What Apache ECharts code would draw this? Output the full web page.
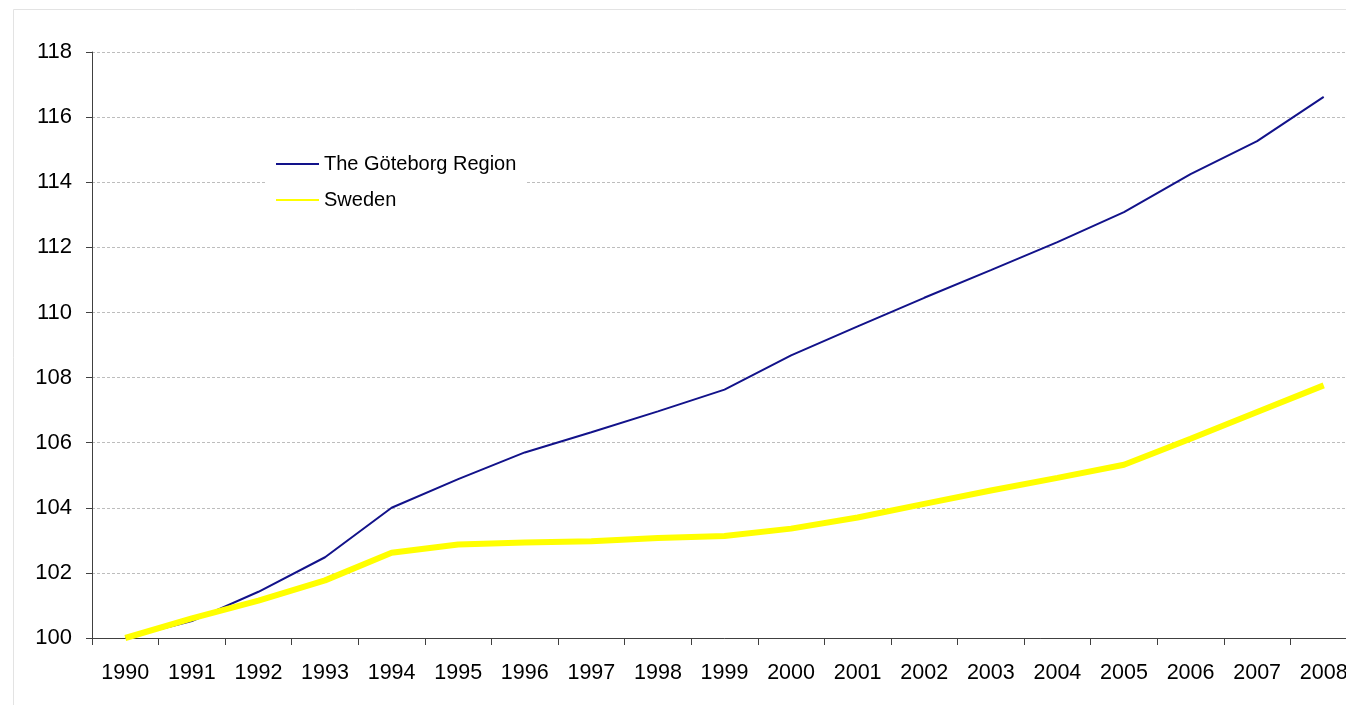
<!DOCTYPE html>
<html>
<head>
<meta charset="utf-8">
<script src="https://cdn.jsdelivr.net/npm/echarts@6/dist/echarts.min.js"></script>
<style>
    html, body { margin: 0; padding: 0; background: #fff; overflow: hidden; }
    /* the plot runs a little past the right edge of the picture */
    #main-id { width: 1380px; height: 705px; }
</style>
</head>
<body>
<div id="main-id"></div>
<script>
var years = ['1990', '1991', '1992', '1993', '1994', '1995', '1996', '1997', '1998', '1999',
             '2000', '2001', '2002', '2003', '2004', '2005', '2006', '2007', '2008'];
var goteborgValues = [100, 100.52, 101.42, 102.48, 104.0, 104.88, 105.7, 106.32, 106.96, 107.63,
                      108.68, 109.57, 110.45, 111.3, 112.16, 113.08, 114.25, 115.26, 116.62];
var swedenValues = [100, 100.6, 101.15, 101.77, 102.62, 102.87, 102.93, 102.97, 103.07, 103.13,
                    103.36, 103.7, 104.12, 104.53, 104.92, 105.32, 106.12, 106.94, 107.76];
var yTicks = { min: 100, max: 118, step: 2 };

function plotIndexChart(divId) {
    var dom = document.getElementById(divId);
    var myChart = echarts.init(dom, null, {
        renderer: 'canvas',
        useDirtyRect: false
    });
    var option;

    option = {
        animation: false,
        backgroundColor: '#ffffff',
        textStyle: {
            fontFamily: '"Liberation Sans", Arial, sans-serif'
        },
        // thin frame seen at top and left of the original picture
        graphic: [
            {
                type: 'rect',
                z: -10,
                shape: { x: 13.5, y: 9.5, width: 1500, height: 900 },
                style: { fill: 'none', stroke: '#e3e3e3', lineWidth: 1 }
            }
        ],
        grid: {
            left: 92,
            top: 52,
            width: 1265,
            height: 586
        },
        legend: {
            orient: 'vertical',
            left: 266,
            top: 146,
            padding: [8, 10, 8, 10],
            backgroundColor: '#ffffff',
            icon: 'rect',
            itemWidth: 43,
            itemHeight: 2,
            itemGap: 16,
            textStyle: {
                fontSize: 20,
                color: '#000000',
                lineHeight: 20
            },
            data: ['The Göteborg Region', 'Sweden'],
            z: 10
        },
        xAxis: {
            type: 'category',
            data: years,
            boundaryGap: true,
            axisLine: { lineStyle: { color: '#404040', width: 1 } },
            axisTick: { show: true, length: 7, lineStyle: { color: '#404040' } },
            axisLabel: { fontSize: 21.5, color: '#000000', margin: 24 },
            splitLine: { show: false }
        },
        yAxis: {
            type: 'value',
            min: yTicks.min,
            max: yTicks.max,
            interval: yTicks.step,
            axisLine: { show: true, lineStyle: { color: '#404040', width: 1 } },
            axisTick: { show: true, length: 6, lineStyle: { color: '#404040' } },
            axisLabel: { fontSize: 22, color: '#000000', margin: 20 },
            splitLine: {
                show: true,
                lineStyle: { color: '#bdbdbd', type: [3, 2], width: 1 }
            }
        },
        series: [
            {
                name: 'The Göteborg Region',
                type: 'line',
                data: goteborgValues,
                symbol: 'none',
                color: '#12128a',
                lineStyle: { color: '#12128a', width: 2 }
            },
            {
                name: 'Sweden',
                type: 'line',
                data: swedenValues,
                symbol: 'none',
                color: '#ffff00',
                lineStyle: { color: '#ffff00', width: 6 }
            }
        ]
    };

    if (option && typeof option === 'object') {
        myChart.setOption(option);
    }
}

plotIndexChart('main-id');
</script>
</body>
</html>
